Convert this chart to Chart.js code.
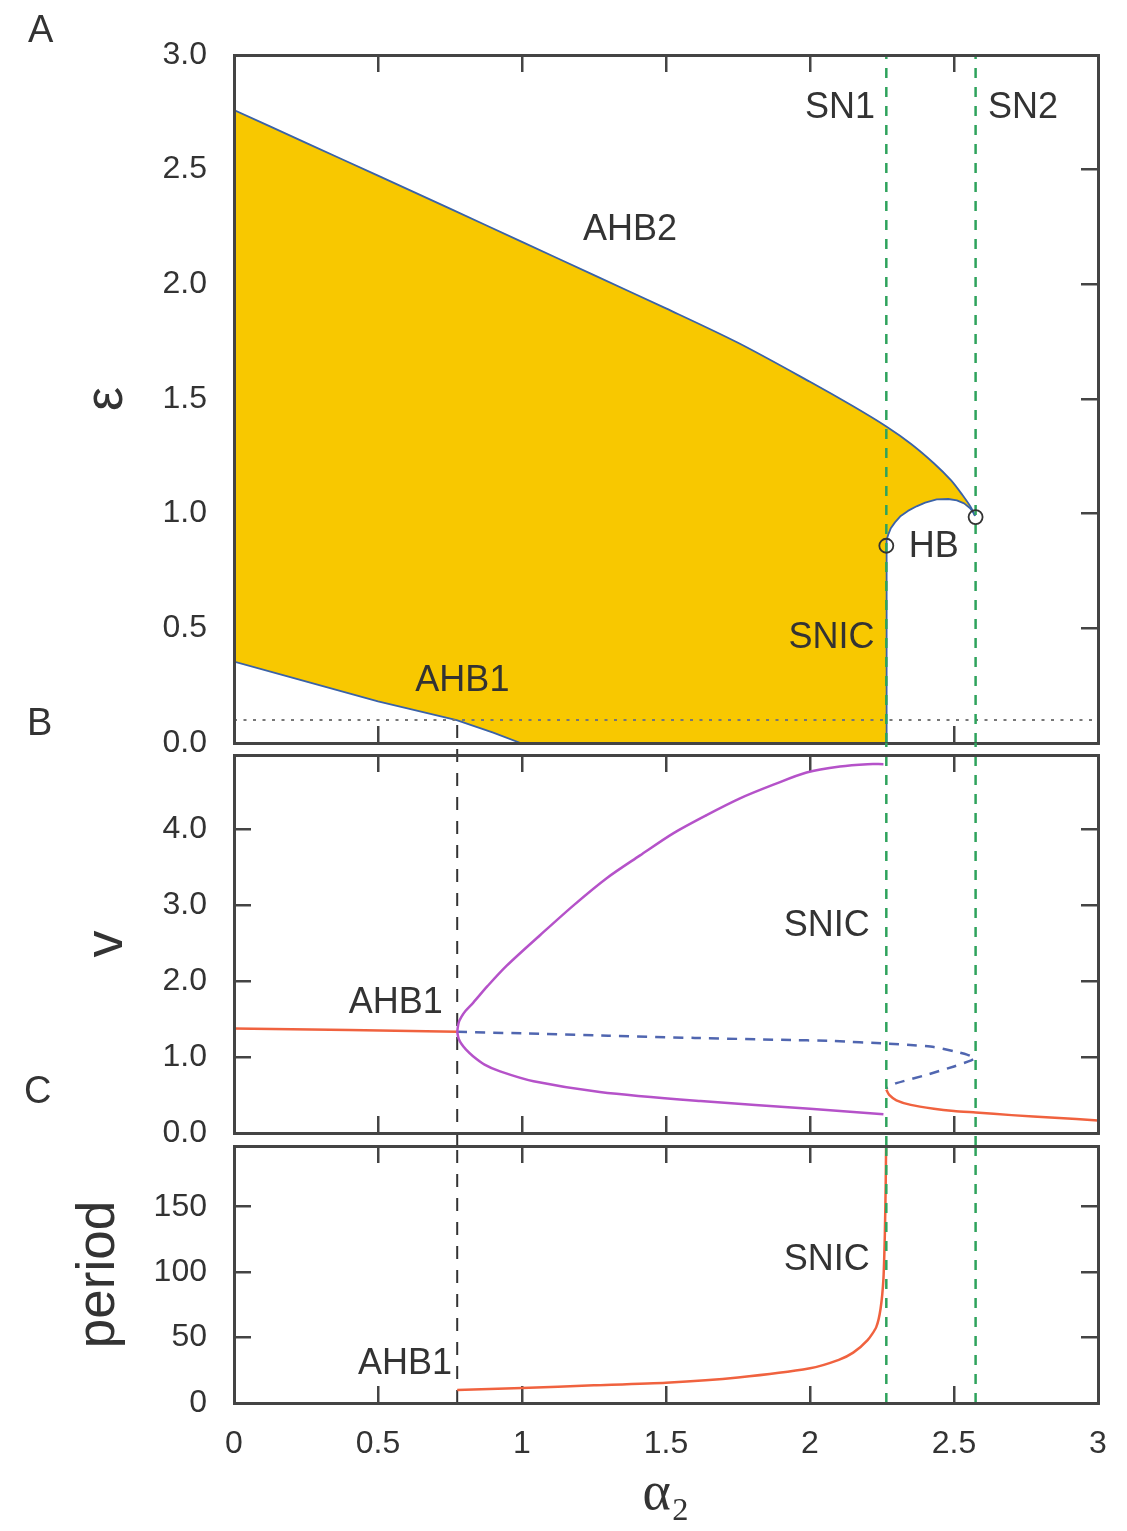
<!DOCTYPE html>
<html><head><meta charset="utf-8">
<script src="https://cdn.jsdelivr.net/npm/chart.js@4.4.1/dist/chart.umd.min.js"></script>
<style>
html,body{margin:0;padding:0;background:#fff;}
#wrap{position:relative;width:1127px;height:1531px;overflow:hidden;background:#fff;}
canvas{position:absolute;left:0;top:0;}
.pl{position:absolute;font-family:"Liberation Sans",Arial,Helvetica,sans-serif;font-size:38px;line-height:38px;color:#333;}
</style></head><body>
<div id="wrap">
<canvas id="cA" width="1127" height="1531"></canvas>
<canvas id="cB" width="1127" height="1531"></canvas>
<canvas id="cC" width="1127" height="1531"></canvas>
<div class="pl" style="left:28px;top:10px">A</div>
<div class="pl" style="left:27px;top:703px">B</div>
<div class="pl" style="left:24px;top:1071px">C</div>
</div>
<script>
// ---------- data ----------
const SN1 = 2.265, SN2 = 2.575, AHB1_ALPHA = 0.775;
const X_MIN = 0, X_MAX = 3;
const xTicks = [0, 0.5, 1, 1.5, 2, 2.5, 3];
const epsTicks = [0, 0.5, 1, 1.5, 2, 2.5, 3];
const vTicks = [0, 1, 2, 3, 4];
const periodTicks = [0, 50, 100, 150];
const EPS_MAX = 3, V_MAX = 4.97, P_MAX = 196.4;

// Panel A
const ahb2Alpha = [0, 0.25, 0.5, 0.75, 1.0, 1.25, 1.5, 1.75, 2.0, 2.15, 2.265, 2.35, 2.43, 2.49, 2.53, 2.56, 2.573];
const ahb2Eps   = [2.76, 2.617, 2.474, 2.33, 2.185, 2.04, 1.895, 1.745, 1.575, 1.468, 1.38, 1.305, 1.22, 1.145, 1.08, 1.025, 0.99];
const ahb1Alpha = [0, 0.23, 0.5, 0.773, 0.9, 0.995];
const ahb1Eps   = [0.355, 0.275, 0.182, 0.1, 0.045, 0];
const snicAlpha = [2.265, 2.265];
const snicEps   = [0, 0.86];
const hbAlpha = [2.265, 2.267, 2.272, 2.28, 2.295, 2.315, 2.34, 2.37, 2.40, 2.44, 2.48, 2.51, 2.535, 2.555, 2.567, 2.573];
const hbEps   = [0.86, 0.885, 0.91, 0.935, 0.962, 0.99, 1.012, 1.032, 1.048, 1.062, 1.064, 1.058, 1.045, 1.025, 1.005, 0.99];
const hbPointAlpha = [2.265, 2.575];
const hbPointEps   = [0.86, 0.985];
const EPS_REF = 0.1;

// Panel B
const ssUpAlpha = [0, 0.4, 0.775];
const ssUpV     = [1.375, 1.355, 1.33];
const ssUnAlpha = [0.775, 1.0, 1.3, 1.6, 1.9, 2.08, 2.265, 2.36, 2.43, 2.5, 2.545, 2.573, 2.56, 2.5, 2.405, 2.3, 2.265];
const ssUnV     = [1.33, 1.31, 1.28, 1.25, 1.225, 1.21, 1.175, 1.155, 1.13, 1.075, 1.03, 0.985, 0.955, 0.875, 0.765, 0.655, 0.59];
const ssLoAlpha = [2.265, 2.275, 2.3, 2.35, 2.43, 2.5, 2.575, 2.7, 2.85, 3.0];
const ssLoV     = [0.57, 0.5, 0.43, 0.37, 0.32, 0.29, 0.27, 0.235, 0.2, 0.165];
const lcMaxAlpha = [0.775, 0.78, 0.79, 0.805, 0.831, 0.88, 0.947, 1.0625, 1.178, 1.294, 1.41, 1.525, 1.641, 1.757, 1.873, 1.988, 2.104, 2.2, 2.255];
const lcMaxV     = [1.33, 1.45, 1.53, 1.61, 1.715, 1.93, 2.2, 2.6, 2.99, 3.35, 3.65, 3.94, 4.18, 4.40, 4.58, 4.74, 4.82, 4.85, 4.85];
const lcMinAlpha = [0.775, 0.78, 0.79, 0.805, 0.83, 0.87, 0.924, 1.04, 1.27, 1.62, 2.0, 2.255];
const lcMinV     = [1.33, 1.24, 1.17, 1.10, 1.01, 0.9, 0.81, 0.68, 0.54, 0.42, 0.32, 0.245];

// Panel C
const perAlpha = [0.775, 1.0, 1.25, 1.5, 1.75, 2.0, 2.1, 2.15, 2.2, 2.23, 2.245, 2.255, 2.26, 2.263, 2.265];
const perVal   = [10, 11.5, 13.5, 15.5, 19.5, 26.5, 33, 38.5, 48, 58, 72, 95, 130, 170, 215];

// annotations
const annA = {labels: ['SN1', 'SN2', 'AHB2', 'HB', 'SNIC', 'AHB1'], x: [2.104, 2.74, 1.375, 2.43, 2.075, 0.793], y: [2.77, 2.77, 2.237, 0.856, 0.457, 0.27]};
const annB = {labels: ['SNIC', 'AHB1'], x: [2.058, 0.562], y: [2.72, 1.707]};
const annC = {labels: ['SNIC', 'AHB1'], x: [2.058, 0.594], y: [109.5, 29.5]};

// ---------- style ----------
const FONT = '"Liberation Sans", Arial, Helvetica, sans-serif';
const TXT = '#333333', AXC = '#444444', YELLOW = '#f8c800', BLUE = '#3a62a8', GREEN = '#2ea35c';
const RED = '#f0623f', PURPLE = '#b552c9', DBLUE = '#5066b0', BLK = '#333333';

function xy(xs, ys) { return xs.map((x, i) => ({x: x, y: ys[i]})); }
function vline(x, y0, y1) { return [{x: x, y: y0}, {x: x, y: y1}]; }
function hline(y, x0, x1) { return [{x: x0, y: y}, {x: x1, y: y}]; }

function axis(o) {
  return {
    type: 'linear', position: o.pos, min: o.min, max: o.max,
    afterBuildTicks: s => { s.ticks = o.ticks.map(v => ({value: v})); },
    afterFit: s => {
      if ('w' in o) s.width = o.w;
      if ('h' in o) s.height = o.h;
      s.paddingTop = 0; s.paddingBottom = 0; s.paddingLeft = 0; s.paddingRight = 0;
    },
    grid: {display: true, drawOnChartArea: false, drawTicks: true, tickLength: -17, tickWidth: 2.5, tickColor: AXC, color: AXC, lineWidth: 2.5},
    border: {display: true, color: AXC, width: 3, z: 1},
    ticks: {display: !!o.fmt, padding: o.pad || 0, color: TXT, font: {family: FONT, size: 32}, callback: o.fmt || (() => ''), maxRotation: 0, minRotation: 0, autoSkip: false},
    title: o.title || {display: false}
  };
}
function yTitle(text, size, padTop) {
  return {display: true, text: text, color: TXT, font: {family: FONT, size: size, lineHeight: 1.2}, padding: {top: padTop, bottom: 0}};
}
function opts(padTop, padBottom, scales) {
  return {
    responsive: false, animation: false, events: [],
    layout: {padding: {left: 0, right: 29, top: padTop, bottom: padBottom}, autoPadding: false},
    plugins: {legend: {display: false}, tooltip: {enabled: false}},
    elements: {point: {radius: 0, hoverRadius: 0}, line: {tension: 0, borderCapStyle: 'butt', borderJoinStyle: 'round'}},
    scales: scales
  };
}
function annotPlugin(a) {
  return {
    id: 'annot',
    afterDatasetsDraw(chart) {
      const ctx = chart.ctx, x = chart.scales.x, y = chart.scales.y;
      ctx.save();
      ctx.font = '36px ' + FONT;
      ctx.fillStyle = TXT;
      ctx.textAlign = 'center';
      ctx.textBaseline = 'middle';
      a.labels.forEach((t, i) => ctx.fillText(t, x.getPixelForValue(a.x[i]), y.getPixelForValue(a.y[i])));
      ctx.restore();
    }
  };
}
const fmt1 = v => Number(v).toFixed(1);
const fmt0 = v => String(v);

// ---------- Panel A ----------
const lowerA = xy(ahb1Alpha.concat(snicAlpha, hbAlpha.slice(1)), ahb1Eps.concat(snicEps, hbEps.slice(1)));
new Chart(document.getElementById('cA'), {
  type: 'line',
  data: {datasets: [
    {label: 'AHB2', data: xy(ahb2Alpha, ahb2Eps), borderColor: BLUE, borderWidth: 1.8, backgroundColor: YELLOW, fill: 1, tension: 0.3, order: 9},
    {label: 'AHB1 / SNIC / HB', data: lowerA, borderColor: BLUE, borderWidth: 1.8, fill: false, order: 8},
    {label: 'eps ref', data: hline(EPS_REF, X_MIN, X_MAX), borderColor: '#777', borderWidth: 2, borderDash: [3, 6.5], order: 5},
    {label: 'SN1', data: vline(SN1, 0, EPS_MAX), borderColor: GREEN, borderWidth: 2.5, borderDash: [10, 9], order: 4},
    {label: 'SN2', data: vline(SN2, 0, EPS_MAX), borderColor: GREEN, borderWidth: 2.5, borderDash: [10, 9], order: 4},
    {label: 'HB', data: xy(hbPointAlpha, hbPointEps), showLine: false, pointRadius: 7, pointBorderColor: '#333', pointBackgroundColor: 'rgba(0,0,0,0)', pointBorderWidth: 1.8, order: 1}
  ]},
  options: opts(55, 1531 - 743, {
    x: axis({pos: 'bottom', min: X_MIN, max: X_MAX, ticks: xTicks, h: 0}),
    x2: axis({pos: 'top', min: X_MIN, max: X_MAX, ticks: xTicks, h: 0}),
    y: axis({pos: 'left', min: 0, max: EPS_MAX, ticks: epsTicks, w: 234, fmt: fmt1, pad: 44, title: yTitle('ε', 54, 75)}),
    y2: axis({pos: 'right', min: 0, max: EPS_MAX, ticks: epsTicks, w: 0})
  }),
  plugins: [annotPlugin(annA)]
});

// ---------- Panel B ----------
new Chart(document.getElementById('cB'), {
  type: 'line',
  data: {datasets: [
    {label: 'AHB1 line', data: vline(AHB1_ALPHA, -0.17, 5.4), borderColor: BLK, borderWidth: 2, borderDash: [13, 11], clip: false, order: 6},
    {label: 'SN1', data: vline(SN1, -0.17, 5.13), borderColor: GREEN, borderWidth: 2.5, borderDash: [10, 9], clip: false, order: 2},
    {label: 'SN2', data: vline(SN2, -0.17, 5.13), borderColor: GREEN, borderWidth: 2.5, borderDash: [10, 9], clip: false, order: 2},
    {label: 'stable upper', data: xy(ssUpAlpha, ssUpV), borderColor: RED, borderWidth: 2.5, order: 4},
    {label: 'unstable', data: xy(ssUnAlpha, ssUnV), borderColor: DBLUE, borderWidth: 2.5, borderDash: [10, 8], tension: 0.2, order: 5},
    {label: 'stable lower', data: xy(ssLoAlpha, ssLoV), borderColor: RED, borderWidth: 2.5, tension: 0.2, order: 4},
    {label: 'LC max', data: xy(lcMaxAlpha, lcMaxV), borderColor: PURPLE, borderWidth: 2.5, tension: 0.3, order: 3},
    {label: 'LC min', data: xy(lcMinAlpha, lcMinV), borderColor: PURPLE, borderWidth: 2.5, tension: 0.3, order: 3}
  ]},
  options: opts(755, 1531 - 1133, {
    x: axis({pos: 'bottom', min: X_MIN, max: X_MAX, ticks: xTicks, h: 0}),
    x2: axis({pos: 'top', min: X_MIN, max: X_MAX, ticks: xTicks, h: 0}),
    y: axis({pos: 'left', min: 0, max: V_MAX, ticks: vTicks, w: 234, fmt: fmt1, pad: 44, title: yTitle('v', 54, 75)}),
    y2: axis({pos: 'right', min: 0, max: V_MAX, ticks: vTicks, w: 0})
  }),
  plugins: [annotPlugin(annB)]
});

// ---------- Panel C ----------
new Chart(document.getElementById('cC'), {
  type: 'line',
  data: {datasets: [
    {label: 'AHB1 line', data: vline(AHB1_ALPHA, 0, P_MAX), borderColor: BLK, borderWidth: 2, borderDash: [13, 11], order: 6},
    {label: 'SN1', data: vline(SN1, 0, P_MAX), borderColor: GREEN, borderWidth: 2.5, borderDash: [10, 9], order: 2},
    {label: 'SN2', data: vline(SN2, 0, P_MAX), borderColor: GREEN, borderWidth: 2.5, borderDash: [10, 9], order: 2},
    {label: 'period', data: xy(perAlpha, perVal), borderColor: RED, borderWidth: 2.5, tension: 0.2, order: 4}
  ]},
  options: opts(1146, 0, {
    x: axis({pos: 'bottom', min: X_MIN, max: X_MAX, ticks: xTicks, h: 128, fmt: fmt0, pad: 39,
      title: {display: true, text: 'α₂', color: TXT, font: {family: '"Liberation Serif", "DejaVu Serif", serif', size: 54, lineHeight: 1}, padding: {top: 0, bottom: 9}}}),
    x2: axis({pos: 'top', min: X_MIN, max: X_MAX, ticks: xTicks, h: 0}),
    y: axis({pos: 'left', min: 0, max: P_MAX, ticks: periodTicks, w: 234, fmt: fmt0, pad: 44, title: yTitle('period', 53, 68)}),
    y2: axis({pos: 'right', min: 0, max: P_MAX, ticks: periodTicks, w: 0})
  }),
  plugins: [annotPlugin(annC)]
});
</script>
</body></html>
